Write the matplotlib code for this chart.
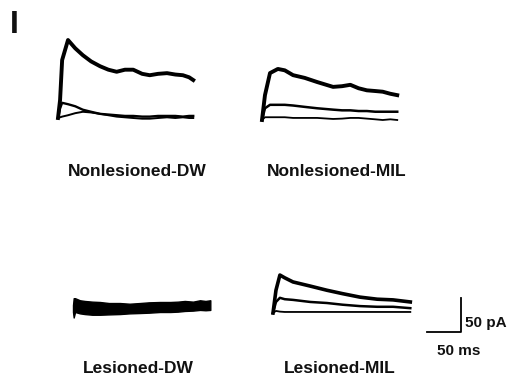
import numpy as np
import matplotlib.pyplot as plt

plt.rcParams['font.family'] = ['Liberation Sans', 'DejaVu Sans']

# Traces: time (ms), current (pA, relative to baseline)
nl_dw_t = [0, 3, 6, 14.5, 25, 36, 48, 61, 73, 85, 97, 109, 122, 133, 145, 158, 170, 181, 190, 196]
nl_dw_top = [0, 26, 84, 113, 101, 91, 82, 75, 70, 67, 70, 70, 64, 62, 64, 65, 63, 62, 59, 55]
nl_dw_mid = [0, 14, 22, 20, 17, 12, 9, 6, 5, 4, 3, 3, 2, 2, 3, 3, 3, 2, 3, 3]
nl_dw_low = [0, 1, 2, 4, 7, 9, 8, 6, 4, 2, 1, 0, -1, -1, 0, 1, 0, 1, 0, 0]

nl_mil_t = [0, 4.3, 11.6, 23, 33, 45, 62, 80, 103, 116, 128, 140, 152, 164, 175, 186, 196]
nl_mil_top = [0, 36, 68, 74, 72, 65, 61, 55, 48, 49, 51, 46, 43, 42, 41, 38, 36]
nl_mil_mid = [0, 17, 22, 22, 22, 21, 19, 17, 15, 14, 14, 13, 13, 12, 12, 12, 12]
nl_mil_low = [0, 4, 4, 4, 4, 3, 3, 3, 1.5, 2, 3, 3, 2, 1, 0, 1, 0]

l_dw_t = [0, 1, 3, 10, 17, 28, 39, 52, 68, 82, 97, 110, 126, 141, 152, 162, 174, 184, 192, 199]
l_dw_upper = [10, 20, 20, 17, 16, 15, 14.5, 13, 13, 12, 13, 14, 14.5, 14.5, 15, 16, 15, 17, 16, 17]
l_dw_lower = [0, -8, 0, -2, -3, -4, -4, -3.5, -3, -2, -1.5, -1, 0, 0, 0.5, 1.5, 2, 3, 2.5, 3]

l_mil_t = [0, 4.3, 10, 17, 29, 54, 78, 101, 126, 151, 174, 199]
l_mil_top = [0, 33, 55, 51, 45, 39, 33, 28, 23, 20, 19, 16]
l_mil_mid = [0, 16, 22, 20, 19, 16, 14.5, 12, 10, 9, 9, 7]
l_mil_low = [0, 3, 2, 1.5, 1.5, 1.5, 1.5, 1.5, 1.5, 1.5, 1.5, 1.5]

scale_ms = 50
scale_pa = 50

W, H = 513, 381
U = 50 / 34.5  # data units per pixel


def P(x, y):
    return x * U, (H - y) * U


fig = plt.figure(figsize=(W / 100, H / 100), dpi=100)
ax = fig.add_axes([0, 0, 1, 1])
ax.set_xlim(0, W * U)
ax.set_ylim(0, H * U)
ax.axis('off')


def traces(origin, t, series, widths):
    x0, y0 = P(*origin)
    t = np.asarray(t)
    for vals, lw in zip(series, widths):
        ax.plot(x0 + t, y0 + np.asarray(vals), color='black', lw=lw,
                solid_joinstyle='round')


traces((58, 118), nl_dw_t, [nl_dw_top, nl_dw_mid, nl_dw_low], [2.8, 1.7, 1.4])
traces((262, 120), nl_mil_t, [nl_mil_top, nl_mil_mid, nl_mil_low], [2.8, 1.8, 1.3])
traces((273, 313), l_mil_t, [l_mil_top, l_mil_mid, l_mil_low], [2.6, 1.8, 1.3])

x0, y0 = P(73, 312)
ax.fill_between(x0 + np.asarray(l_dw_t), y0 + np.asarray(l_dw_lower),
                y0 + np.asarray(l_dw_upper), color='black', lw=1.0,
                edgecolor='black')

# scale bar
cx, cy = P(461.5, 332)
ax.plot([cx - scale_ms, cx, cx], [cy, cy, cy + scale_pa], color='black', lw=1.3)

bold = dict(fontweight='bold', color='#111111')
ax.text(*P(10, 33), 'I', fontsize=23, ha='left', va='baseline', **bold)
ax.text(*P(137, 176), 'Nonlesioned-DW', fontsize=12.5, ha='center', va='baseline', **bold)
ax.text(*P(337, 176), 'Nonlesioned-MIL', fontsize=12.5, ha='center', va='baseline', **bold)
ax.text(*P(138, 373), 'Lesioned-DW', fontsize=12.5, ha='center', va='baseline', **bold)
ax.text(*P(340, 373), 'Lesioned-MIL', fontsize=12.5, ha='center', va='baseline', **bold)
ax.text(*P(465, 327), '50 pA', fontsize=11, ha='left', va='baseline', **bold)
ax.text(*P(459, 355), '50 ms', fontsize=11, ha='center', va='baseline', **bold)

fig.savefig('out.png', dpi=100)
